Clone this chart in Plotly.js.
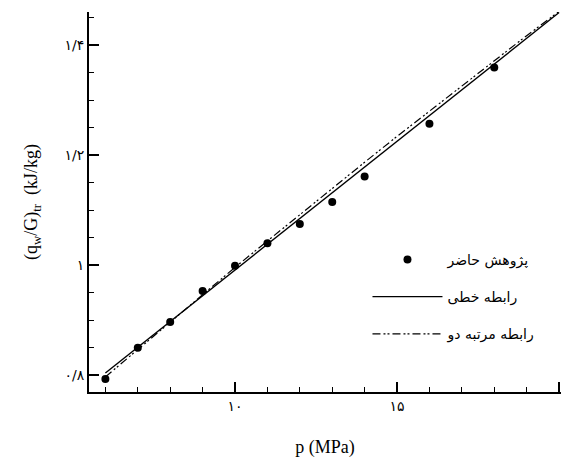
<!DOCTYPE html>
<html>
<head>
<meta charset="utf-8">
<script src="https://cdn.plot.ly/plotly-3.0.1.min.js"></script>
<style>html,body{margin:0;padding:0;background:#fff;}#chart{width:565px;height:464px;}</style>
</head>
<body>
<div id="chart"></div>
<script>
// Data
const pressure = [6, 7, 8, 9, 10, 11, 12, 13, 14, 16, 18, 20];
const heatPresent = [0.793, 0.850, 0.897, 0.953, 0.999, 1.040, 1.075, 1.115, 1.161, 1.257, 1.359, 1.461];

const linearX = [6, 20];
const linearY = [0.804, 1.459];

const quadX = [6, 7, 8, 9, 10, 11, 12, 13, 14, 15, 16, 17, 18, 19, 20];
const quadY = [0.797, 0.847, 0.897, 0.947, 0.996, 1.044, 1.092, 1.140, 1.187, 1.234, 1.280, 1.326, 1.372, 1.417, 1.461];

const xTickVals = [10, 15, 20];
const xTickText = ['۱۰', '۱۵', '۲۰'];
const yTickVals = [0.8, 1.0, 1.2, 1.4];
const yTickText = ['۰/۸', '۱', '۱/۲', '۱/۴'];

const names = ['پژوهش حاضر', 'رابطه خطی', 'رابطه مرتبه دو'];

const serif = 'Liberation Serif, Times New Roman, DejaVu Serif, serif';
const persian = 'DejaVu Sans, Liberation Serif, serif';

const traces = [
  {x: pressure, y: heatPresent, mode: 'markers', name: names[0], legendgroup: 'a',
   marker: {color: '#000', size: 8, symbol: 'circle'}, cliponaxis: false},
  {x: linearX, y: linearY, mode: 'lines', name: names[1], legendgroup: 'b',
   line: {color: '#000', width: 1.4}},
  {x: quadX, y: quadY, mode: 'lines', name: names[2], legendgroup: 'c',
   line: {color: '#000', width: 1.2, dash: '8px,3px,2px,2px,2px,3px'}}
];

const layout = {
  width: 565, height: 464,
  margin: {l: 89, r: 4, t: 12, b: 72, pad: 0},
  paper_bgcolor: '#fff', plot_bgcolor: '#fff',
  showlegend: true,
  legend: {x: 0.59, y: 0.39, xanchor: 'left', yanchor: 'top', bgcolor: 'rgba(0,0,0,0)',
    font: {family: persian, size: 14, color: '#000'}, tracegroupgap: 16, itemwidth: 70},
  xaxis: {
    range: [5.494, 20.06], showgrid: false, zeroline: false,
    showline: true, linecolor: '#000', linewidth: 2,
    tickmode: 'array', tickvals: xTickVals, ticktext: xTickText,
    ticks: 'inside', ticklen: 10, tickwidth: 2, tickcolor: '#000',
    tickfont: {family: persian, size: 14, color: '#000'},
    minor: {tickmode: 'linear', tick0: 0, dtick: 1, ticks: 'inside', ticklen: 5, tickwidth: 1, tickcolor: '#000'},
    title: {text: 'p (MPa)', font: {family: serif, size: 18, color: '#000'}, standoff: 28}
  },
  yaxis: {
    range: [0.7696, 1.460], showgrid: false, zeroline: false,
    showline: true, linecolor: '#000', linewidth: 2,
    tickmode: 'array', tickvals: yTickVals, ticktext: yTickText,
    ticks: 'inside', ticklen: 10, tickwidth: 2, tickcolor: '#000',
    tickfont: {family: persian, size: 14, color: '#000'},
    minor: {tickmode: 'linear', tick0: 0, dtick: 0.05, ticks: 'inside', ticklen: 5, tickwidth: 1, tickcolor: '#000'},
    title: {text: '(q<sub>w</sub>/G)<sub>tr</sub>  (kJ/kg)', font: {family: serif, size: 18, color: '#000'}, standoff: 22}
  }
};

Plotly.newPlot('chart', traces, layout, {displayModeBar: false, staticPlot: true});
</script>
</body>
</html>
